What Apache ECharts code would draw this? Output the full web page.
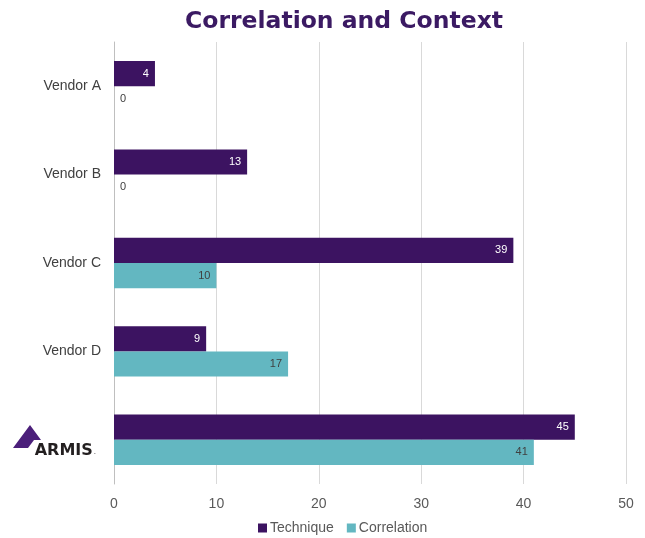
<!DOCTYPE html>
<html><head><meta charset="utf-8">
<script src="https://cdn.jsdelivr.net/npm/echarts@6/dist/echarts.min.js"></script>
<style>html,body{margin:0;padding:0;background:#fff}#c{width:645px;height:538px}</style>
</head><body><div id="c"></div>
<script>
const categories = ['Vendor A', 'Vendor B', 'Vendor C', 'Vendor D', 'ARMIS'];
const technique = [4, 13, 39, 9, 45];
const correlation = [0, 0, 10, 17, 41];
const xTicks = [0, 10, 20, 30, 40, 50];

function items(arr) {
  return arr.map(v => v === 0
    ? { value: v, label: { position: 'right', distance: 6, color: '#404040' } }
    : { value: v });
}

const chart = echarts.init(document.getElementById('c'));
chart.setOption({
  animation: false,
  title: {
    text: 'Correlation and Context', left: 180, top: 5,
    textStyle: { fontFamily: 'DejaVu Sans', fontWeight: 'bold', fontSize: 23.5, color: '#3b1a63' }
  },
  legend: {
    bottom: -2, left: 253, itemWidth: 9, itemHeight: 9, itemGap: 13,
    icon: 'rect',
    textStyle: { fontFamily: 'Liberation Sans', fontSize: 14, color: '#595959', padding: [0, 0, 0, -2] },
    data: ['Technique', 'Correlation']
  },
  grid: { left: 114, right: 19, top: 42, bottom: 54 },
  xAxis: {
    type: 'value', min: xTicks[0], max: xTicks[xTicks.length - 1], interval: 10,
    axisLine: { show: false }, axisTick: { show: false },
    splitLine: { lineStyle: { color: '#d9d9d9' } },
    axisLabel: { fontFamily: 'Liberation Sans', fontSize: 14, color: '#595959', margin: 13 }
  },
  yAxis: {
    type: 'category', data: categories, inverse: true,
    axisLine: { lineStyle: { color: '#bfbfbf' } }, axisTick: { show: false },
    axisLabel: {
      fontFamily: 'Liberation Sans', fontSize: 14, color: '#404040', margin: 13,
      formatter: v => v === 'ARMIS' ? '{logo|ARMIS}{dot|.}' : v,
      rich: {
        logo: { fontFamily: 'DejaVu Sans', fontWeight: 'bold', fontSize: 16, color: '#231f20', padding: [22, 0, 0, 0] },
        dot: { fontFamily: 'Liberation Sans', fontSize: 8, color: '#231f20', padding: [24, 5, 0, 1] }
      }
    }
  },
  graphic: [{
    type: 'polygon', left: 13, top: 425,
    shape: { points: [[0, 23], [17, 0], [28, 15], [21, 15], [15, 23]] },
    style: { fill: '#4b1f7a' }
  }],
  series: [
    {
      name: 'Technique', type: 'bar', data: items(technique),
      itemStyle: { color: '#3c1361' }, barGap: '0%', barCategoryGap: '43%',
      label: { show: true, position: 'insideRight', distance: 6, color: '#ffffff', fontFamily: 'Liberation Sans', fontSize: 11 }
    },
    {
      name: 'Correlation', type: 'bar', data: items(correlation),
      itemStyle: { color: '#63b7c1' }, barGap: '0%', barCategoryGap: '43%',
      label: { show: true, position: 'insideRight', distance: 6, color: '#404040', fontFamily: 'Liberation Sans', fontSize: 11 }
    }
  ]
});
</script></body></html>
